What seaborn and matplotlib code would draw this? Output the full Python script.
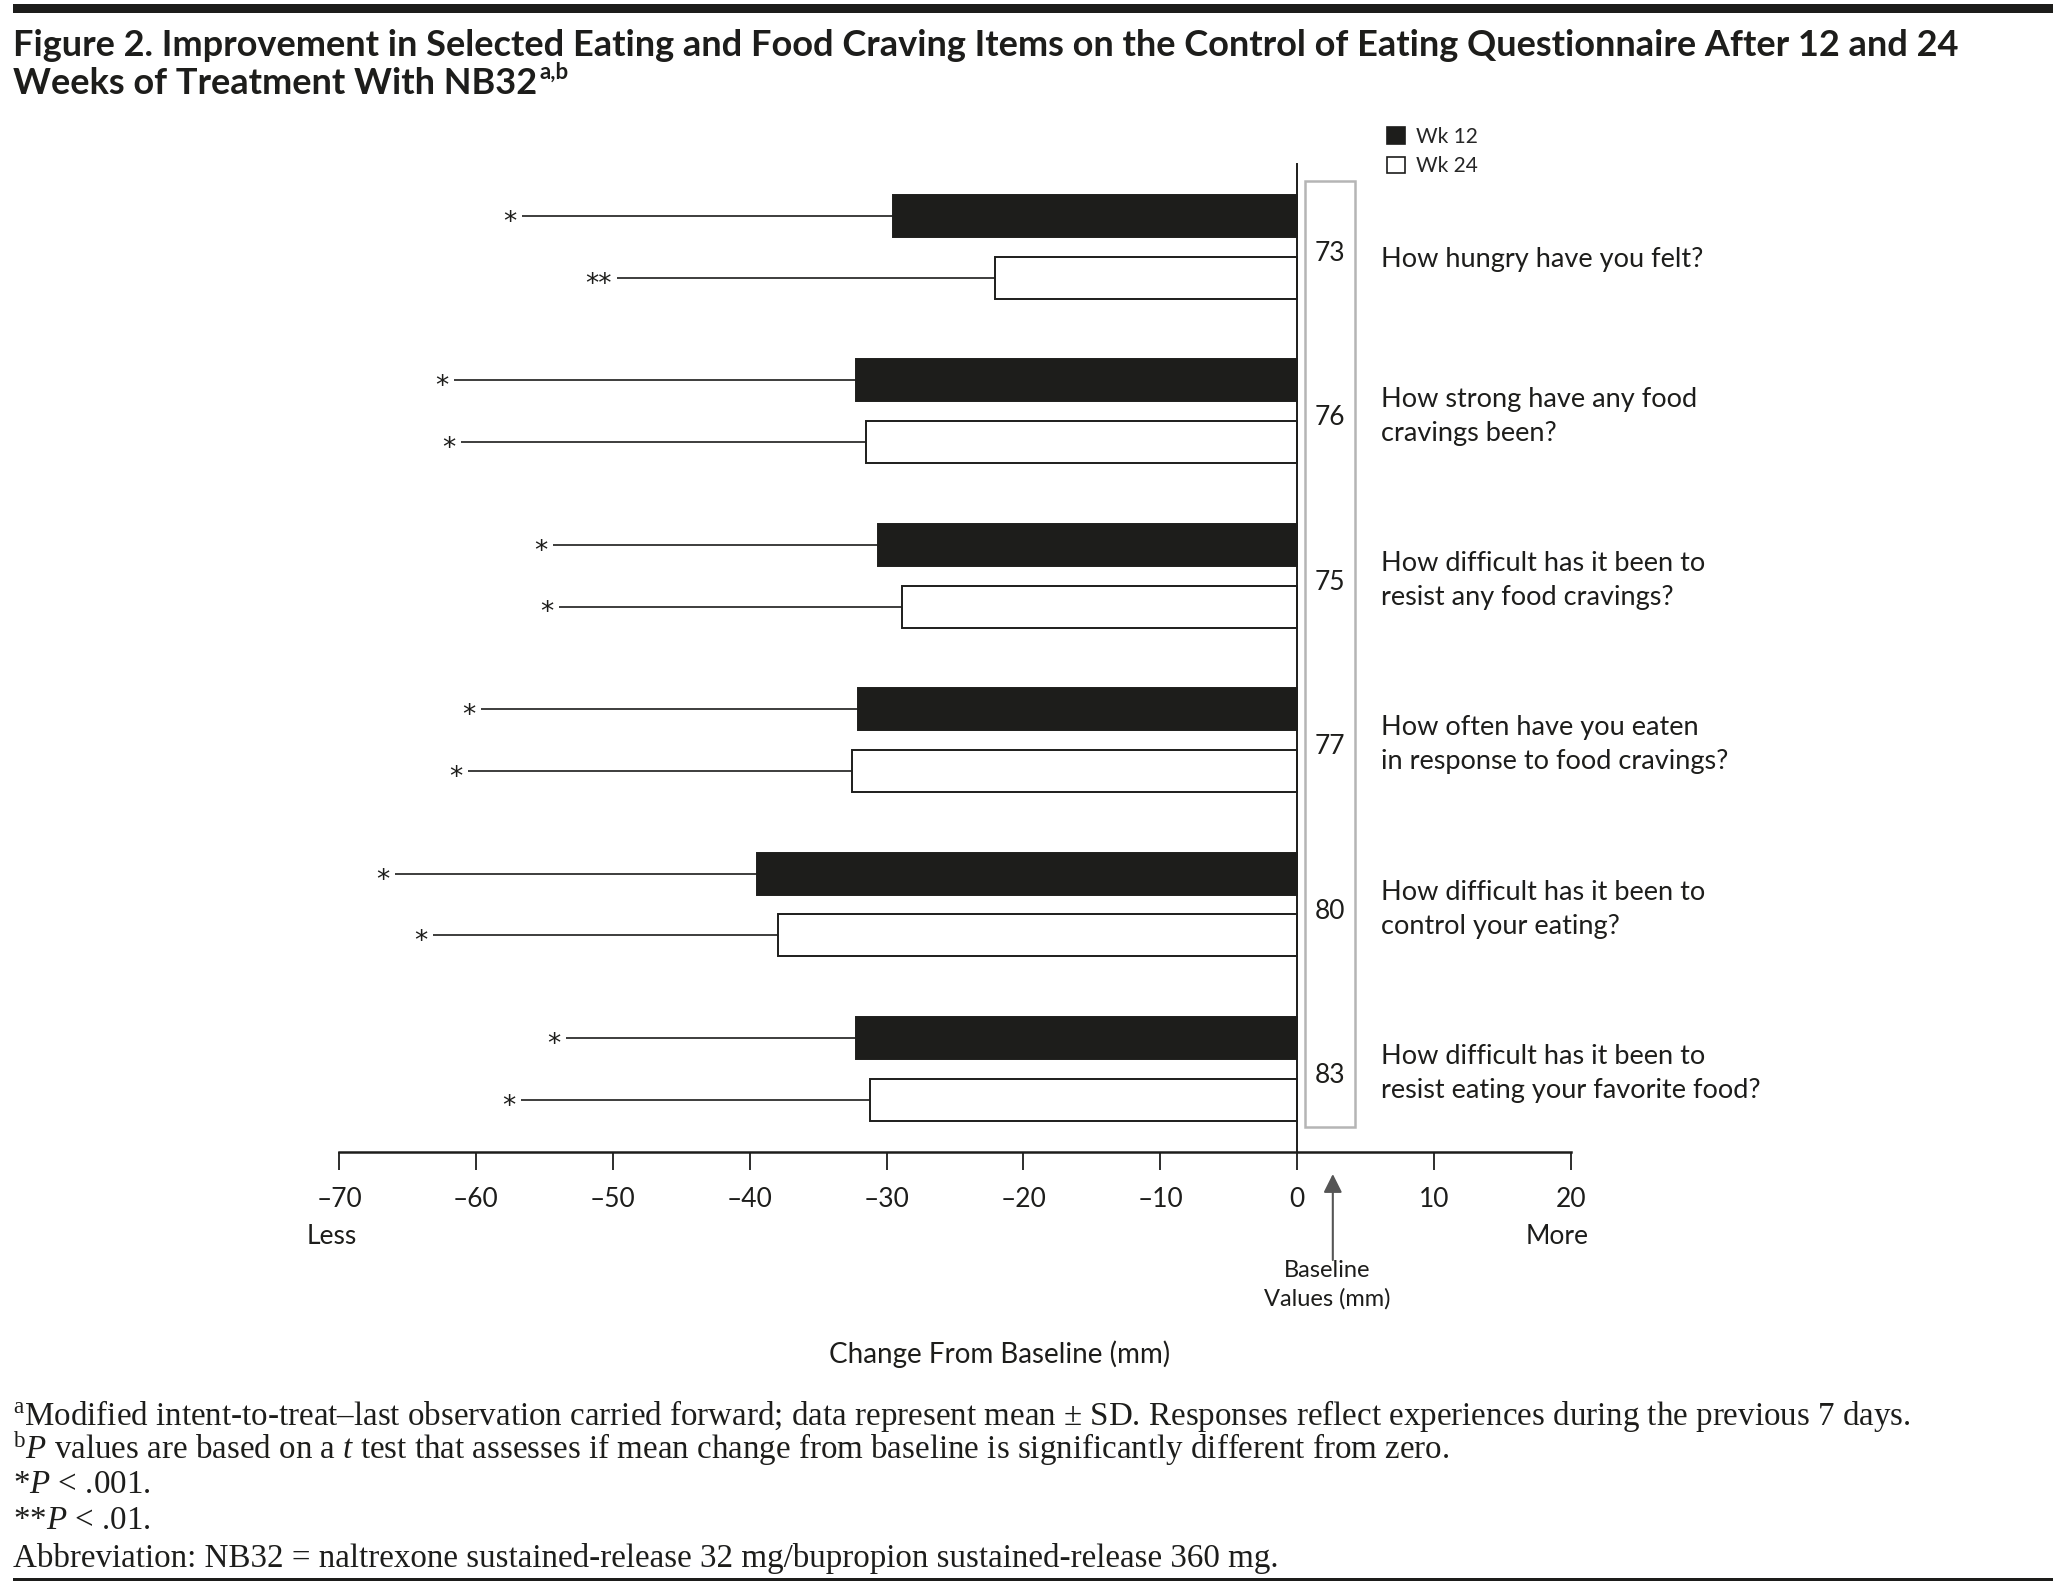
import matplotlib
matplotlib.use('Agg')
import matplotlib.pyplot as plt
import seaborn as sns
import pandas as pd
from matplotlib.patches import Rectangle, Patch
from matplotlib import transforms

# Data
questions = [
    "How hungry have you felt?",
    "How strong have any food\ncravings been?",
    "How difficult has it been to\nresist any food cravings?",
    "How often have you eaten\nin response to food cravings?",
    "How difficult has it been to\ncontrol your eating?",
    "How difficult has it been to\nresist eating your favorite food?",
]
baseline_values = [73, 76, 75, 77, 80, 83]
wk12_mean = [-29.5, -32.2, -30.6, -32.1, -39.5, -32.2]
wk12_sd = [27.1, 29.4, 23.8, 27.5, 26.4, 21.2]
wk12_sig = ["*", "*", "*", "*", "*", "*"]
wk24_mean = [-22.1, -31.5, -28.9, -32.5, -37.9, -31.2]
wk24_sd = [27.6, 29.6, 25.0, 28.1, 25.2, 25.5]
wk24_sig = ["**", "*", "*", "*", "*", "*"]
weeks = ["Wk 12", "Wk 24"]
xticks = [-70, -60, -50, -40, -30, -20, -10, 0, 10, 20]
xtick_labels = ["\u201370", "\u201360", "\u201350", "\u201340", "\u201330",
                "\u201320", "\u201310", "0", "10", "20"]

rows = []
for i, q in enumerate(questions):
    rows.append({"q": i, "week": "Wk 12", "change": wk12_mean[i], "sd": wk12_sd[i], "sig": wk12_sig[i]})
    rows.append({"q": i, "week": "Wk 24", "change": wk24_mean[i], "sd": wk24_sd[i], "sig": wk24_sig[i]})
df = pd.DataFrame(rows)
df["q"] = df["q"].astype(str)

sns.set_theme(style="white")
plt.rcParams["font.family"] = ["Lato", "DejaVu Sans"]
plt.rcParams["mathtext.fontset"] = "custom"
plt.rcParams["mathtext.rm"] = "Liberation Serif"
plt.rcParams["mathtext.it"] = "Liberation Serif:italic"

INK = "#1d1d1b"
W, H = 2064, 1586
fig = plt.figure(figsize=(W / 100, H / 100), dpi=100)
ax = fig.add_axes([339 / W, 1 - 1152 / H, (1571 - 339) / W, (1152 - 164) / H])

sns.barplot(data=df, x="change", y="q", hue="week", hue_order=weeks,
            order=[str(i) for i in range(len(questions))], orient="h",
            palette={"Wk 12": INK, "Wk 24": "white"}, edgecolor=INK,
            linewidth=1.4, width=0.752, gap=0.32, errorbar=None,
            legend=False, ax=ax)

# one-sided SD lines and significance stars
for container, wk in zip(ax.containers, weeks):
    sub = df[df["week"] == wk].reset_index(drop=True)
    for bar in container:
        yc = bar.get_y() + bar.get_height() / 2
        i = int(round(yc))
        end = bar.get_x() + bar.get_width()
        sd = sub.loc[i, "sd"]
        ax.errorbar(end, yc, xerr=[[sd], [0]], fmt="none", ecolor=INK,
                    elinewidth=1.2, capsize=0, zorder=1)
        ax.annotate(sub.loc[i, "sig"], (end - sd, yc), xytext=(-4, -5),
                    textcoords="offset points", ha="right", va="center",
                    fontsize=19, family="DejaVu Sans", color=INK,
                    annotation_clip=False)

ax.set_xlim(-70, 20)
ax.set_ylim(5.505, -0.503)
ax.set_xticks(xticks, labels=xtick_labels)
ax.set_yticks([])
ax.set_xlabel("")
ax.set_ylabel("")
for s in ["top", "right"]:
    ax.spines[s].set_visible(False)
ax.spines["left"].set_position(("data", 0))
ax.spines["left"].set_color(INK)
ax.spines["left"].set_linewidth(1.4)
ax.spines["bottom"].set_color(INK)
ax.spines["bottom"].set_linewidth(1.8)
ax.tick_params(axis="x", direction="out", length=13, width=1.3, color=INK,
               labelsize=19, labelcolor=INK, pad=12, bottom=True)
ax.tick_params(axis="y", left=False)

# baseline box, values and questions
ax.add_patch(Rectangle((0.6, -0.402), 3.6, 5.757, fill=False,
                       edgecolor="#b5b5b5", linewidth=1.8, clip_on=False))
for i, (b, q) in enumerate(zip(baseline_values, questions)):
    ax.text(2.4, i + 0.04, str(b), ha="center", va="center", fontsize=19,
            color=INK, clip_on=False)
    dy = 0.08 if "\n" not in q else 0.03
    ax.text(6.1, i + dy, q, ha="left", va="center", fontsize=19.5,
            color=INK, linespacing=1.45, clip_on=False)

# legend
handles = [Patch(facecolor=INK, edgecolor=INK, linewidth=1.2, label="Wk 12"),
           Patch(facecolor="white", edgecolor=INK, linewidth=1.2, label="Wk 24")]
fig.legend(handles=handles, loc="upper left",
           bbox_to_anchor=(1387 / W, 1 - 127 / H), bbox_transform=fig.transFigure,
           frameon=False, fontsize=15, handlelength=0.85, handleheight=0.85,
           handletextpad=0.55, labelspacing=0.45, borderpad=0, borderaxespad=0)

# axis end labels
trans = transforms.blended_transform_factory(ax.transData, fig.transFigure)
ax.text(-70.5, 1 - 1237 / H, "Less", transform=trans, ha="center", va="center",
        fontsize=19, color=INK)
ax.text(19.0, 1 - 1237 / H, "More", transform=trans, ha="center", va="center",
        fontsize=19, color=INK)
ax.annotate("", xy=(2.6, 1 - 1174 / H), xytext=(2.6, 1 - 1260 / H),
            xycoords=trans, textcoords=trans,
            arrowprops=dict(arrowstyle="-|>", color="#555555", lw=1.5,
                            mutation_scale=28, shrinkA=0, shrinkB=0))
ax.text(2.2, 1 - 1285 / H, "Baseline\nValues (mm)", transform=trans,
        ha="center", va="center", fontsize=17, color=INK, linespacing=1.4)
fig.text(1000 / W, 1 - 1354 / H, "Change From Baseline (mm)", ha="center",
         va="center", fontsize=20, color=INK)

# title
fig.add_artist(Rectangle((13 / W, 1 - 13 / H), (2053 - 13) / W, 9 / H,
                         transform=fig.transFigure, facecolor=INK, edgecolor="none"))
fig.text(13 / W, 1 - 45 / H,
         "Figure 2. Improvement in Selected Eating and Food Craving Items on the "
         "Control of Eating Questionnaire After 12 and 24",
         ha="left", va="center", fontsize=26, fontweight="bold", color=INK)
t2 = fig.text(13 / W, 1 - 84 / H, "Weeks of Treatment With NB32", ha="left",
              va="center", fontsize=26, fontweight="bold", color=INK)
fig.canvas.draw()
bb = t2.get_window_extent(fig.canvas.get_renderer())
fig.text((bb.x1 + 2) / W, 1 - 72 / H, "a,b", ha="left", va="center",
         fontsize=16, fontweight="bold", color=INK)

# footnotes
foot = [
    r"$^{\mathrm{a}}$Modified intent-to-treat" + "\u2013" + "last observation carried forward; "
    "data represent mean \u00b1 SD. Responses reflect experiences during the previous 7 days.",
    r"$^{\mathrm{b}}$$P$ values are based on a $t$ test that assesses if mean change "
    "from baseline is significantly different from zero.",
    r"*$P$ < .001.",
    r"**$P$ < .01.",
    "Abbreviation: NB32 = naltrexone sustained-release 32 mg/bupropion sustained-release 360 mg.",
]
foot_y = [1416, 1449, 1485, 1521, 1558]
for txt, y in zip(foot, foot_y):
    fig.text(13 / W, 1 - y / H, txt, ha="left", va="center", fontsize=23.8,
             family="Liberation Serif", color=INK)
fig.add_artist(Rectangle((13 / W, 1 - 1581 / H), (2053 - 13) / W, 3 / H,
                         transform=fig.transFigure, facecolor=INK, edgecolor="none"))

fig.savefig("out.png", dpi=100)
